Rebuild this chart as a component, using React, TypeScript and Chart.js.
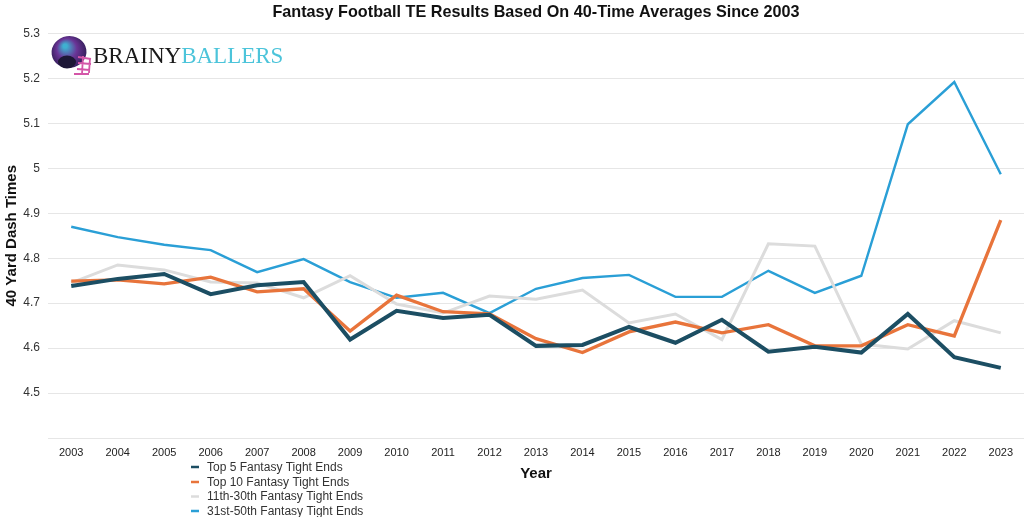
import React, { useEffect, useRef } from "react";
import { Chart, registerables } from "chart.js";

Chart.register(...registerables);

const TITLE = "Fantasy Football TE Results Based On 40-Time Averages Since 2003";
const years = ["2003","2004","2005","2006","2007","2008","2009","2010","2011","2012","2013","2014","2015","2016","2017","2018","2019","2020","2021","2022","2023"];

const seriesLabels = [
  "Top 5 Fantasy Tight Ends",
  "Top 10 Fantasy Tight Ends",
  "11th-30th Fantasy Tight Ends",
  "31st-50th Fantasy Tight Ends",
];

const top5 = [4.738,4.754,4.765,4.72,4.74,4.747,4.619,4.683,4.667,4.674,4.605,4.607,4.647,4.612,4.663,4.592,4.603,4.59,4.676,4.58,4.556];
const top10 = [4.749,4.752,4.743,4.758,4.725,4.732,4.638,4.718,4.681,4.676,4.621,4.59,4.636,4.658,4.634,4.652,4.605,4.605,4.652,4.627,4.885];
const te11to30 = [4.745,4.785,4.774,4.747,4.745,4.712,4.761,4.698,4.678,4.716,4.709,4.729,4.656,4.676,4.619,4.832,4.827,4.609,4.598,4.661,4.634];
const te31to50 = [4.87,4.847,4.83,4.818,4.769,4.798,4.747,4.712,4.723,4.678,4.732,4.756,4.763,4.714,4.714,4.772,4.723,4.761,5.098,5.192,4.987];

const yMin = 4.4;
const yMax = 5.3;
const yStep = 0.1;

const colors = ["#1c4e63", "#e8743b", "#dcdcdc", "#2a9fd6"];
const widths = [4, 3.3, 3, 2.4];

const FONT = "'Liberation Sans', Arial, Helvetica, sans-serif";

const extrasPlugin = {
  id: "extras",
  afterDraw(chart: any) {
    const ctx = chart.ctx;
    const area = chart.chartArea;
    ctx.save();
    // Title centered over the chart area
    ctx.font = `bold 16.2px ${FONT}`;
    ctx.fillStyle = "#111";
    ctx.textAlign = "center";
    ctx.textBaseline = "middle";
    ctx.fillText(TITLE, (area.left + area.right) / 2, 13);

    // Legend (vertical list)
    ctx.font = `12px ${FONT}`;
    ctx.textAlign = "left";
    const rows = [467, 482, 496.5, 511];
    chart.data.datasets.forEach((ds: any, i: number) => {
      const y = rows[i];
      ctx.strokeStyle = ds.borderColor;
      ctx.lineWidth = 2.5;
      ctx.beginPath();
      ctx.moveTo(191, y);
      ctx.lineTo(199, y);
      ctx.stroke();
      ctx.fillStyle = "#333";
      ctx.fillText(ds.label, 207, y + 0.5);
    });

    // Logo: helmet
    const hx = 69, hy = 52;
    const g = ctx.createRadialGradient(hx - 4, hy - 6, 2, hx, hy, 20);
    g.addColorStop(0, "#3fb0d0");
    g.addColorStop(0.45, "#6a3496");
    g.addColorStop(1, "#2a1b4f");
    ctx.fillStyle = g;
    ctx.beginPath();
    ctx.ellipse(hx, hy, 17.5, 16, -0.15, 0, Math.PI * 2);
    ctx.fill();
    ctx.fillStyle = "#1d1736";
    ctx.beginPath();
    ctx.ellipse(hx - 2, hy + 10, 9, 6.5, 0, 0, Math.PI * 2);
    ctx.fill();
    ctx.strokeStyle = "#d456a8";
    ctx.lineWidth = 1.8;
    ctx.beginPath();
    ctx.moveTo(78, 57); ctx.lineTo(91, 59);
    ctx.moveTo(78, 63); ctx.lineTo(91, 64);
    ctx.moveTo(77, 69); ctx.lineTo(90, 70);
    ctx.moveTo(83, 56); ctx.lineTo(82, 74);
    ctx.moveTo(90, 58); ctx.lineTo(89, 73);
    ctx.moveTo(74, 74); ctx.lineTo(89, 74);
    ctx.stroke();

    // Logo text
    ctx.font = `23px 'Liberation Serif', 'DejaVu Serif', serif`;
    ctx.textBaseline = "alphabetic";
    ctx.fillStyle = "#1a1a1a";
    ctx.fillText("BRAINY", 93, 63);
    const w = ctx.measureText("BRAINY").width;
    ctx.fillStyle = "#4cc4da";
    ctx.fillText("BALLERS", 93 + w, 63);
    ctx.restore();
  },
};

export default function App() {
  const ref = useRef<HTMLCanvasElement | null>(null);

  useEffect(() => {
    if (!ref.current) return;
    const allSeries = [top5, top10, te11to30, te31to50];
    const chart = new Chart(ref.current, {
      type: "line",
      data: {
        labels: years,
        datasets: allSeries.map((d, i) => ({
          label: seriesLabels[i],
          data: d,
          borderColor: colors[i],
          backgroundColor: colors[i],
          borderWidth: widths[i],
          pointRadius: 0,
          pointHoverRadius: 0,
          tension: 0,
          fill: false,
        })),
      },
      options: {
        responsive: false,
        animation: false,
        maintainAspectRatio: false,
        layout: { padding: { top: 33.5, bottom: 0, left: 0, right: 0 } },
        plugins: {
          legend: { display: false },
          title: { display: false },
          tooltip: { enabled: false },
        },
        scales: {
          x: {
            offset: true,
            grid: { display: false, drawTicks: false, tickLength: 0 },
            border: { display: false },
            afterFit: (scale: any) => { scale.height = 79; },
            ticks: {
              color: "#222",
              font: { family: FONT, size: 11 },
              padding: 8,
              maxRotation: 0,
              autoSkip: false,
            },
            title: {
              display: true,
              text: "Year",
              color: "#111",
              font: { family: FONT, size: 15, weight: "bold" },
              padding: { top: 4, bottom: 34.5 },
            },
          },
          y: {
            min: yMin,
            max: yMax,
            grid: { color: "#e6e6e6", lineWidth: 1, drawTicks: false },
            border: { display: false },
            afterFit: (scale: any) => { scale.width = 48; },
            ticks: {
              stepSize: yStep,
              color: "#333",
              font: { family: FONT, size: 12 },
              padding: 8,
              callback: (v: any) => {
                const n = Number(Number(v).toFixed(1));
                if (Math.abs(n - yMin) < 1e-6) return "";
                return String(n);
              },
            },
            title: {
              display: true,
              text: "40 Yard Dash Times",
              color: "#111",
              font: { family: FONT, size: 15, weight: "bold" },
              padding: { top: 3, bottom: 4 },
            },
          },
        },
      },
      plugins: [extrasPlugin],
    });
    return () => chart.destroy();
  }, []);

  return (
    <div style={{ position: "fixed", left: 0, top: 0, width: 1024, height: 517, background: "#fff" }}>
      <canvas ref={ref} width={1024} height={517} style={{ width: 1024, height: 517, display: "block" }} />
    </div>
  );
}
